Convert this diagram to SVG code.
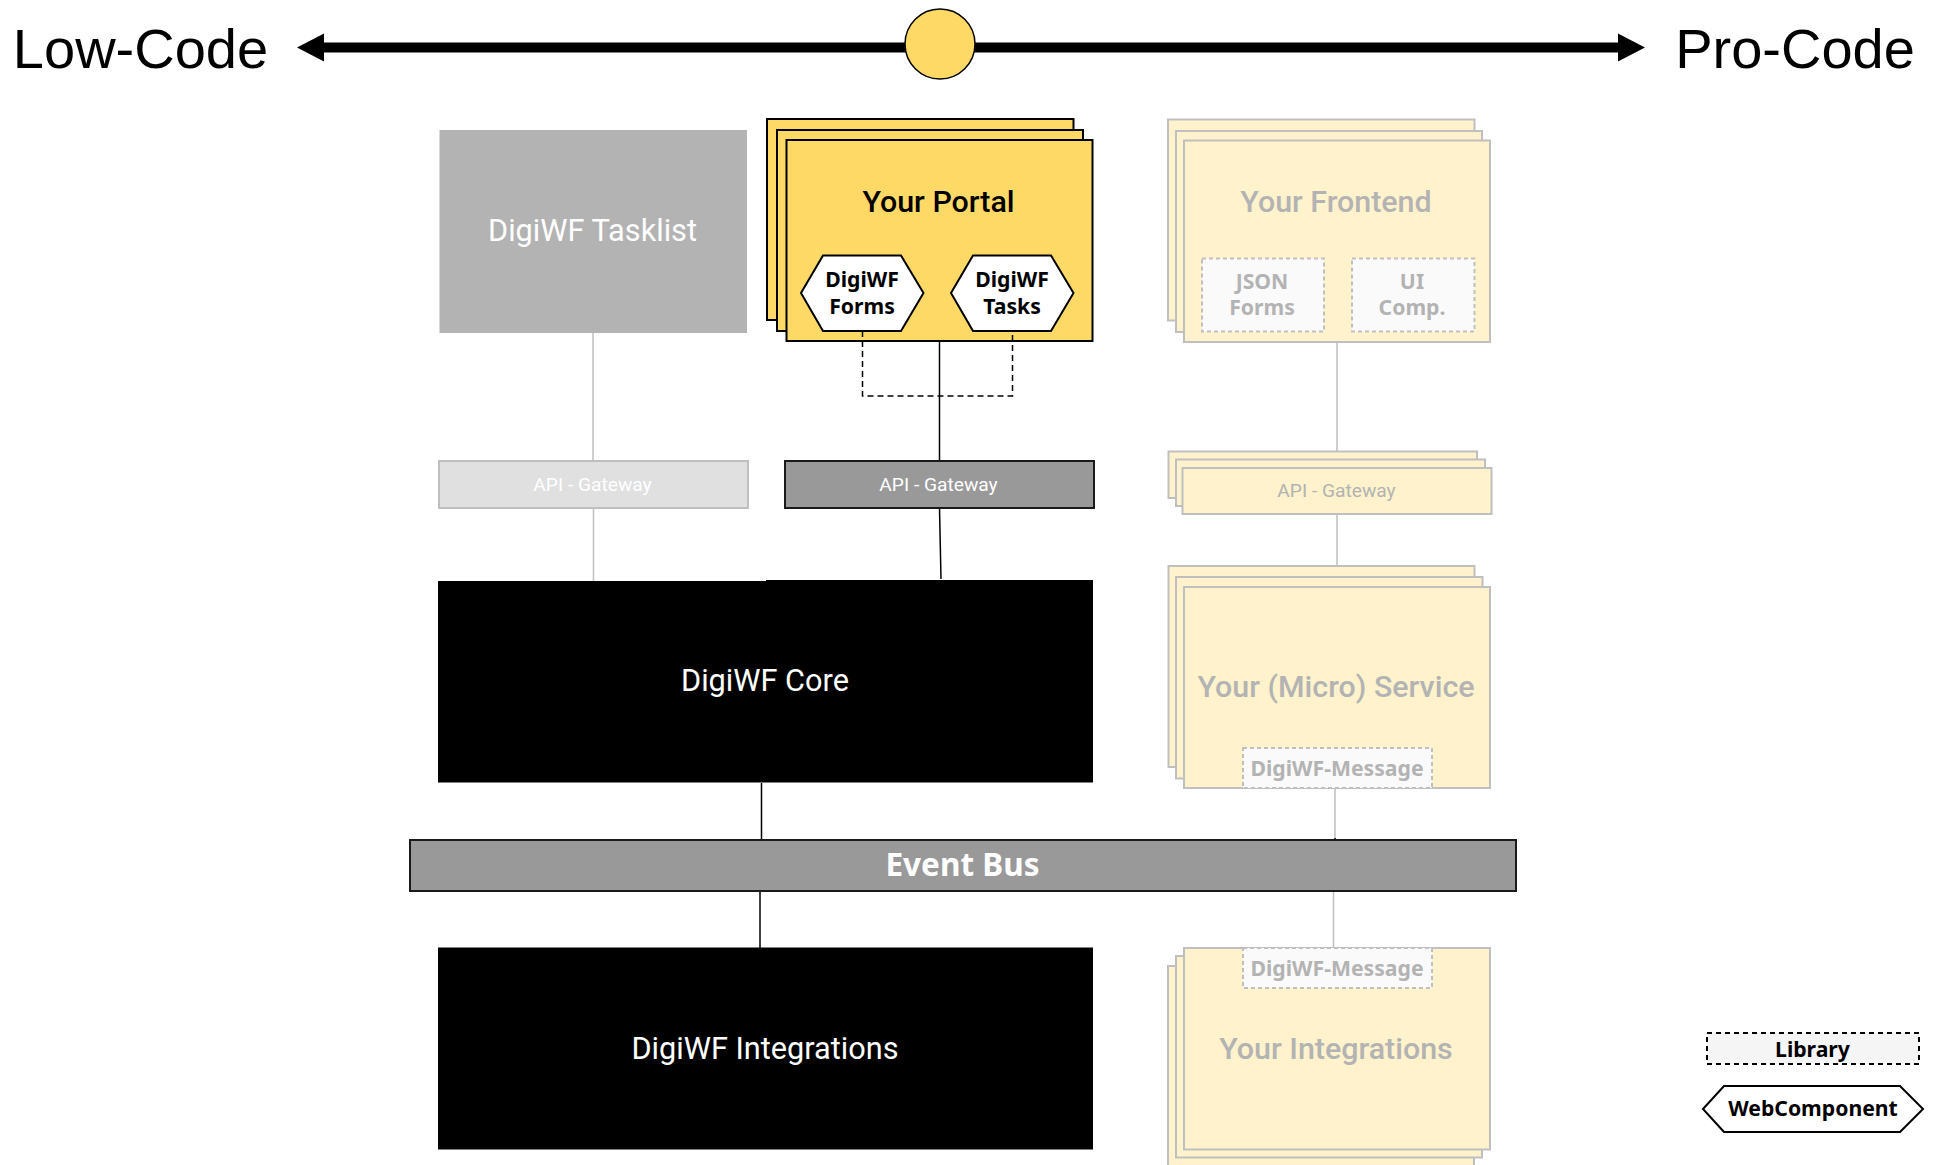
<svg xmlns="http://www.w3.org/2000/svg" width="1935" height="1165" viewBox="0 0 1935 1165">
<style>
text{text-anchor:middle;font-family:Roboto,"Liberation Sans",sans-serif}
.big{font-family:"Liberation Sans",Arial,sans-serif;font-size:56px;fill:#000}
.t{font-size:30.700px}
.m{font-weight:500;font-size:30.400px}
.g{font-size:19.200px}
.b{font-family:"Noto Sans",sans-serif;font-weight:700;font-size:21.200px}
.w{fill:#fff}.k{fill:#000}.mute{fill:#b3b3b3}
.y{fill:#ffd966;stroke:#000;stroke-width:2}
.c{fill:#fff2cc;stroke:#bfbfbf;stroke-width:2}
.lib{fill:#fafafa;stroke:#bfbfbf;stroke-width:2;stroke-dasharray:4 3}
.hex{fill:#fff;stroke:#000;stroke-width:2}
.lk{fill:none;stroke:#000;stroke-width:1.5}
.lg{fill:none;stroke:#bfbfbf;stroke-width:1.5}
.ld{fill:none;stroke:#000;stroke-width:1.5;stroke-dasharray:6 4}
</style>
<g id="connectors">
<path class="lg" d="M593 333V461M593.500 508V581"/>
<path class="lk" d="M939.500 341V461M939.500 508L941 579"/>
<path class="lg" d="M1337 342V452M1337 514V566"/>
<path class="lk" d="M761.500 783V840M760 891V948"/>
<path class="lg" d="M1335 788V840M1333.500 891V948"/>
<path d="M1335 838V840" stroke="#000" stroke-width="1.500" fill="none"/>
<path d="M320 47.500H1620" stroke="#000" stroke-width="10" fill="none"/>
<path d="M297 47.500L324 33.500V61.500Z M1645 47.500L1618 33.500V61.500Z" fill="#000"/>
</g>
<g id="low-code"><text class="big" x="140.500" y="68">Low-Code</text></g>
<g id="pro-code"><text class="big" x="1795" y="68">Pro-Code</text></g>
<g id="slider"><ellipse cx="940" cy="44" rx="35" ry="35" fill="#ffd966" stroke="#000" stroke-width="1.500"/></g>
<g id="tasklist">
<rect x="439.500" y="130" width="307.500" height="203" fill="#b3b3b3"/>
<text class="t w" x="592.500" y="241">DigiWF Tasklist</text>
</g>
<g id="portal">
<rect class="y" x="767" y="119" width="306.500" height="201"/>
<rect class="y" x="777" y="130" width="306" height="201"/>
<rect class="y" x="786.500" y="140" width="306" height="201"/>
<text class="m k" x="938.500" y="212">Your Portal</text>
</g>
<g id="forms">
<path class="hex" d="M801 293L823 255.500H901L923.500 293L901 331H823Z"/>
<text class="b k" x="862" y="287">DigiWF</text>
<text class="b k" x="862" y="314">Forms</text>
</g>
<g id="tasks">
<path class="hex" d="M951 293L973 255.500H1051L1073.500 293L1051 331H973Z"/>
<text class="b k" x="1012" y="287">DigiWF</text>
<text class="b k" x="1012" y="314">Tasks</text>
</g>
<g id="frontend">
<rect class="c" x="1168" y="119.500" width="306.500" height="201"/>
<rect class="c" x="1176" y="131" width="306" height="201"/>
<rect class="c" x="1184" y="140.500" width="306" height="201.500"/>
<text class="m mute" x="1336" y="212">Your Frontend</text>
</g>
<g id="json-forms">
<rect class="lib" x="1202" y="258.500" width="122" height="73"/>
<text class="b mute" x="1262" y="289">JSON</text>
<text class="b mute" x="1262" y="315">Forms</text>
</g>
<g id="ui-comp">
<rect class="lib" x="1352" y="258.500" width="122.500" height="73"/>
<text class="b mute" x="1412" y="289">UI</text>
<text class="b mute" x="1412" y="315">Comp.</text>
</g>
<g id="gateway-low">
<rect x="439" y="461" width="309" height="47" fill="#e0e0e0" stroke="#bfbfbf" stroke-width="2"/>
<text class="g w" x="592.500" y="491">API - Gateway</text>
</g>
<g id="gateway-mid">
<rect x="785" y="461" width="309" height="47" fill="#999" stroke="#1a1a1a" stroke-width="2"/>
<text class="g w" x="938.500" y="491">API - Gateway</text>
</g>
<g id="gateway-pro">
<rect class="c" x="1168.500" y="451.500" width="308.500" height="46.500"/>
<rect class="c" x="1176" y="459.500" width="309" height="46.500"/>
<rect class="c" x="1182.500" y="468" width="309" height="46"/>
<text class="g mute" x="1336.500" y="497">API - Gateway</text>
</g>
<g id="core">
<path d="M438 581H766V580H1093V782.500H438Z" fill="#000"/>
<text class="t w" x="765" y="690.500">DigiWF Core</text>
</g>
<g id="service">
<rect class="c" x="1168.500" y="566" width="306" height="201"/>
<rect class="c" x="1176" y="577" width="306.500" height="201.500"/>
<rect class="c" x="1184" y="587" width="306" height="201"/>
<text class="m mute" x="1336" y="697">Your (Micro) Service</text>
</g>
<g id="message-top">
<rect class="lib" x="1243" y="748" width="189" height="40"/>
<text class="b mute" x="1337" y="776">DigiWF-Message</text>
</g>
<g id="event-bus">
<rect x="410" y="840" width="1106" height="51" fill="#999" stroke="#1a1a1a" stroke-width="2"/>
<text class="b w" style="font-size:31.500px" x="962.500" y="876">Event Bus</text>
</g>
<g id="integrations">
<rect x="438" y="947.500" width="655" height="202" fill="#000"/>
<text class="t w" x="765" y="1058.500">DigiWF Integrations</text>
</g>
<g id="your-integrations">
<rect class="c" x="1168" y="966" width="306" height="202"/>
<rect class="c" x="1176" y="956" width="306" height="201.500"/>
<rect class="c" x="1184" y="948" width="306" height="201.500"/>
<text class="m mute" x="1336" y="1058.500">Your Integrations</text>
</g>
<g id="message-bottom">
<rect class="lib" x="1243" y="948" width="189" height="40"/>
<text class="b mute" x="1337" y="976">DigiWF-Message</text>
</g>
<g id="legend-library">
<rect x="1707" y="1033" width="212" height="31" fill="#f5f5f5" stroke="#000" stroke-width="2" stroke-dasharray="5 4"/>
<text class="b k" x="1812.500" y="1056.500">Library</text>
</g>
<g id="legend-webcomponent">
<path class="hex" d="M1703 1109L1724 1086H1900L1923 1109L1900 1132H1724Z"/>
<text class="b k" x="1813" y="1116">WebComponent</text>
</g>
<g id="connectors-dashed">
<path class="ld" d="M862.500 331V396H1012.500V331"/>
</g>
</svg>
